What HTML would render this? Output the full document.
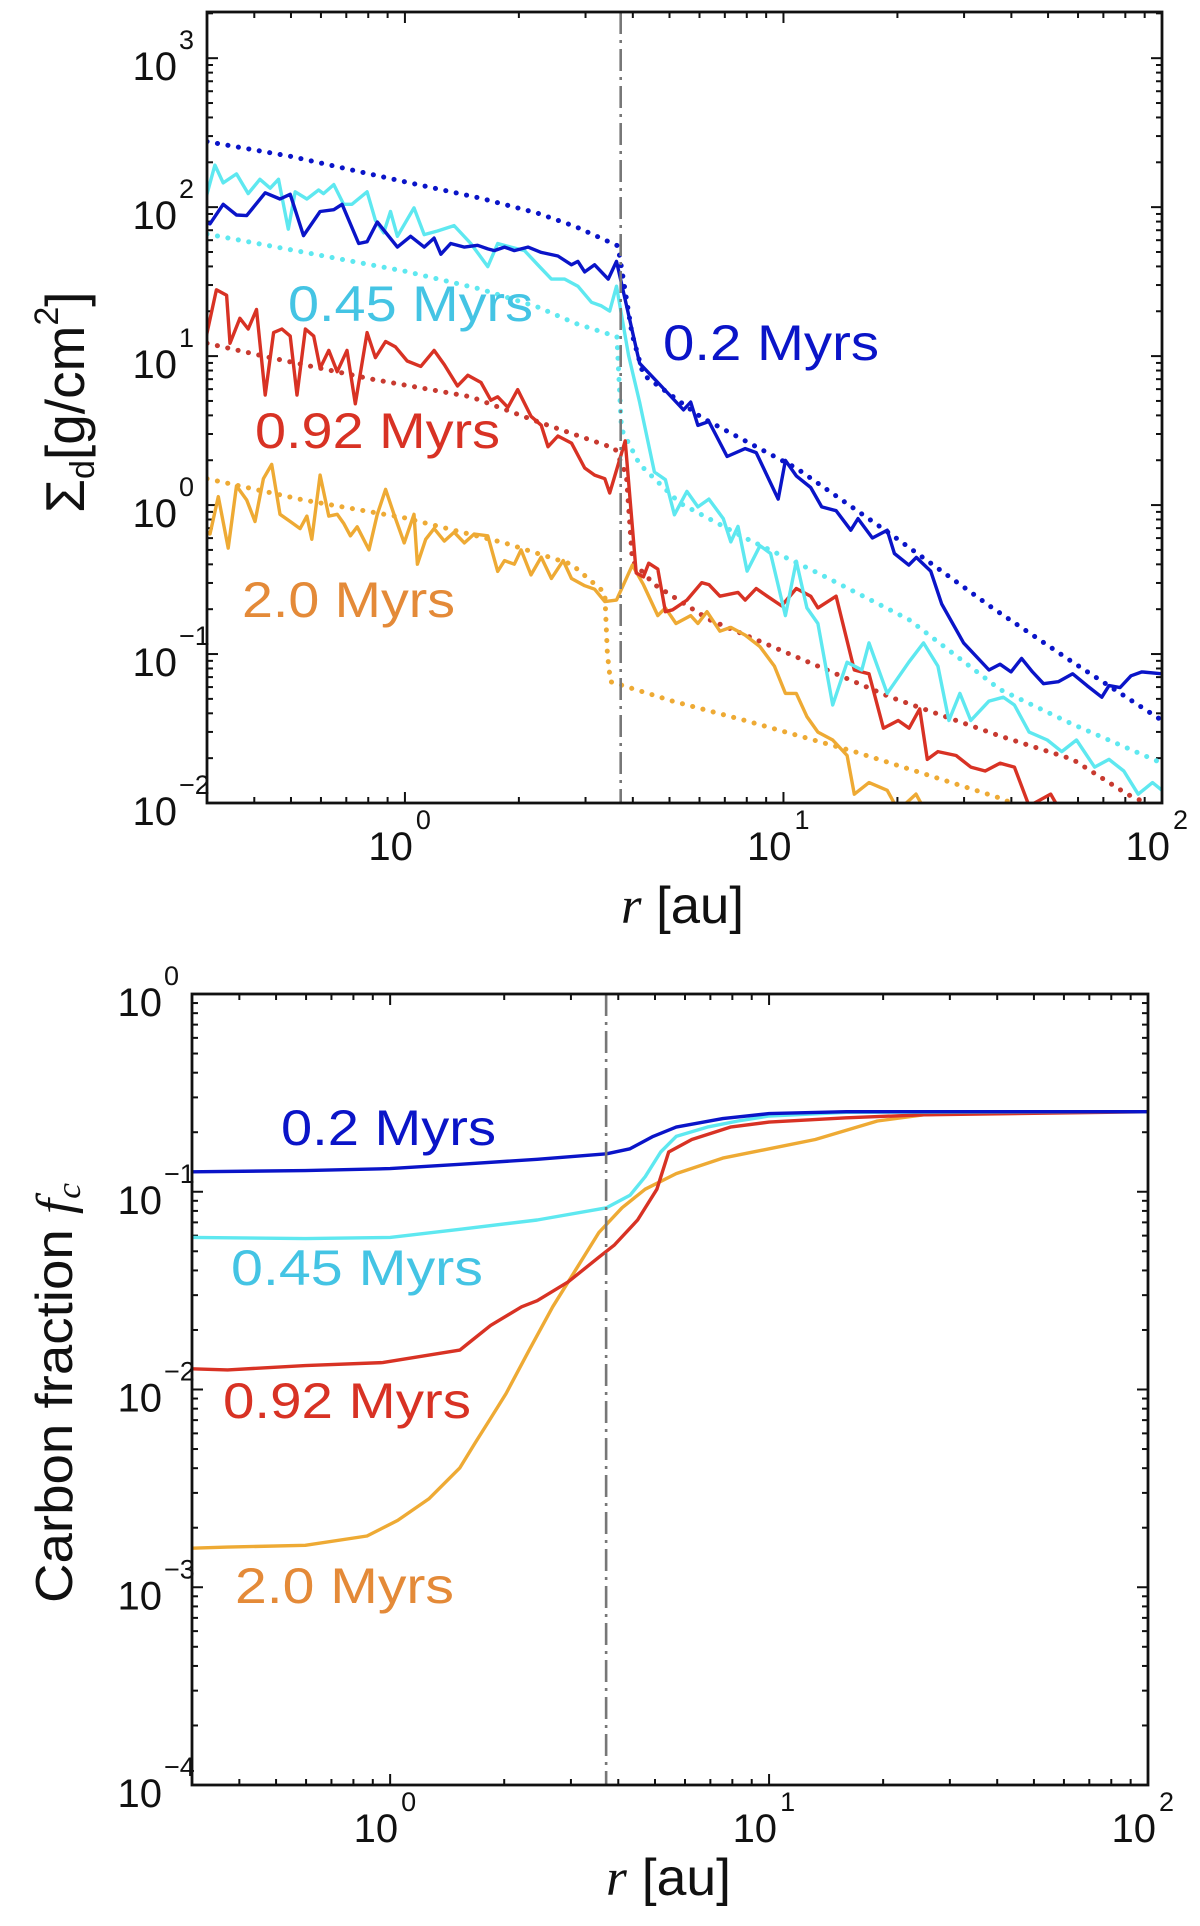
<!DOCTYPE html>
<html><head><meta charset="utf-8"><style>
html,body{margin:0;padding:0;background:#fff;}
svg{display:block;font-family:"Liberation Sans",sans-serif;}
</style></head><body>
<svg id="fig" width="1200" height="1926" viewBox="0 0 1200 1926" xmlns="http://www.w3.org/2000/svg"></svg>
<script>
// ---------- TOP PANEL DATA (log10 r [au], log10 Sigma_d [g/cm^2]) ----------
const topBlueSolidLogR = [-.533,-.515,-.48,-.445,-.418,-.369,-.33,-.303,-.268,-.224,-.188,-.166,-.122,-.1,-.073,-.02,.015,.051,.077,.095,.121,.157,.192,.219,.236,.263,.289,.325,.36,.404,.44,.457,.475,.501,.537,.559,.62,.678,.736,.755,.774,.803,.851,.899,.928,.986,1.005,1.034,1.072,1.101,1.139,1.178,1.197,1.235,1.274,1.293,1.331,1.351,1.389,1.418,1.476,1.543,1.572,1.601,1.629,1.658,1.687,1.726,1.764,1.802,1.841,1.86,1.889,1.918,1.947,2.0];
const topBlueSolidLogS = [1.9,1.888,2.019,1.947,1.943,2.096,2.055,2.086,1.809,1.971,1.983,2.019,1.756,1.768,1.9,1.732,1.804,1.732,1.792,1.684,1.756,1.732,1.744,1.72,1.708,1.732,1.708,1.732,1.696,1.672,1.613,1.636,1.565,1.613,1.517,1.636,.952,.796,.639,.691,.535,.561,.326,.379,.352,.04,.3,.196,.118,-.012,-.038,-.169,-.091,-.221,-.169,-.325,-.403,-.351,-.443,-.664,-.925,-1.107,-1.068,-1.12,-1.029,-1.12,-1.199,-1.186,-1.133,-1.212,-1.29,-1.212,-1.225,-1.146,-1.12,-1.133];
const topCyanSolidLogR = [-.533,-.502,-.48,-.445,-.414,-.383,-.356,-.334,-.308,-.29,-.259,-.228,-.215,-.188,-.162,-.14,-.1,-.078,-.056,-.038,-.02,.024,.051,.086,.13,.174,.219,.245,.28,.316,.351,.387,.422,.457,.493,.519,.541,.559,.591,.62,.659,.688,.712,.745,.774,.803,.841,.861,.88,.904,.938,.966,1.005,1.034,1.062,1.091,1.13,1.168,1.207,1.226,1.274,1.331,1.37,1.408,1.437,1.466,1.495,1.543,1.581,1.61,1.649,1.697,1.735,1.774,1.822,1.86,1.899,1.937,1.975,2.0];
const topCyanSolidLogS = [1.995,2.282,2.163,2.223,2.091,2.187,2.127,2.187,1.852,2.103,2.055,2.115,2.091,2.151,2.019,2.019,2.103,1.912,1.828,1.971,1.804,1.995,1.816,1.84,1.876,1.756,1.601,1.756,1.732,1.708,1.613,1.517,1.517,1.469,1.361,1.337,1.302,1.469,1.004,.691,.222,.17,-.065,.092,-.012,.04,-.091,-.247,-.143,-.443,-.273,-.325,-.742,-.377,-.69,-.795,-1.342,-1.055,-1.107,-.925,-1.264,-1.055,-.925,-1.081,-1.446,-1.264,-1.446,-1.316,-1.29,-1.342,-1.524,-1.577,-1.655,-1.577,-1.759,-1.707,-1.785,-1.941,-1.863,-1.915];
const topRedSolidLogR = [-.533,-.498,-.471,-.462,-.436,-.414,-.392,-.369,-.347,-.325,-.303,-.285,-.263,-.241,-.224,-.201,-.179,-.153,-.131,-.1,-.078,-.051,-.025,.006,.042,.077,.104,.139,.166,.201,.227,.245,.272,.298,.333,.36,.378,.404,.44,.475,.501,.528,.541,.555,.582,.611,.63,.644,.668,.688,.707,.745,.784,.803,.832,.88,.899,.928,.957,.995,1.034,1.072,1.091,1.139,1.187,1.226,1.264,1.303,1.332,1.36,1.38,1.408,1.456,1.495,1.533,1.572,1.61,1.649,1.706,1.735];
const topRedSolidLogS = [1.038,1.445,1.409,1.086,1.254,1.182,1.313,.739,1.158,1.182,1.134,.739,1.182,1.134,.919,1.038,.895,1.038,.68,1.158,.99,1.098,1.062,.967,.931,1.038,.943,.799,.871,.823,.703,.727,.656,.775,.596,.536,.392,.464,.416,.249,.201,.177,.081,.2,.431,-.456,-.482,-.39,-.43,-.716,-.703,-.638,-.521,-.534,-.612,-.586,-.638,-.56,-.612,-.677,-.56,-.612,-.69,-.612,-1.107,-1.133,-1.498,-1.446,-1.498,-1.368,-1.707,-1.655,-1.681,-1.759,-1.785,-1.733,-1.759,-2.02,-1.94,-2.07];
const topOrangeSolidLogR = [-.533,-.515,-.493,-.467,-.445,-.418,-.396,-.374,-.352,-.33,-.303,-.277,-.259,-.246,-.224,-.201,-.179,-.162,-.144,-.126,-.095,-.073,-.051,-.029,-.002,.024,.033,.055,.077,.104,.13,.157,.183,.219,.245,.263,.289,.307,.333,.36,.387,.418,.44,.475,.501,.528,.559,.601,.63,.668,.688,.716,.755,.774,.798,.832,.861,.899,.938,.976,1.005,1.034,1.062,1.091,1.13,1.168,1.187,1.226,1.274,1.303,1.35,1.38];
const topOrangeSolidLogS = [-.158,-.194,.057,-.289,.129,.034,-.11,.177,.273,-.062,-.11,-.158,-.074,-.23,.201,-.074,-.062,-.122,-.206,-.146,-.301,-.062,.105,-.062,-.254,-.062,-.397,-.23,-.158,-.242,-.182,-.254,-.194,-.206,-.445,-.373,-.397,-.301,-.469,-.349,-.493,-.373,-.493,-.541,-.565,-.648,-.638,-.403,-.534,-.742,-.69,-.795,-.742,-.795,-.716,-.847,-.821,-.873,-.951,-1.081,-1.264,-1.264,-1.42,-1.524,-1.577,-1.681,-1.941,-1.863,-1.915,-2.05,-1.94,-2.08];
const topBlueModelLogR = [-.523,-.3,0,.2,.35,.45,.563,.6,.63,.784,1.034,1.283,1.552,1.764,2.0];
const topBlueModelLogS = [2.44,2.34,2.17,2.06,1.96,1.87,1.74,1.15,.874,.587,.248,-.195,-.69,-1.055,-1.446];
const topCyanModelLogR = [-.523,0,.2,.35,.45,.56,.572,.62,.726,.899,1.091,1.331,1.572,1.764,2.0];
const topCyanModelLogS = [1.82,1.57,1.45,1.33,1.22,1.13,.509,.274,.014,-.221,-.456,-.768,-1.238,-1.472,-1.733];
const topRedModelLogR = [-.523,-.356,-.091,.174,.351,.555,.585,.601,.659,.803,.995,1.283,1.572,1.764,1.908,2.0];
const topRedModelLogS = [1.086,.99,.847,.727,.56,.38,.2,-.377,-.534,-.768,-.977,-1.29,-1.55,-1.707,-1.941,-2.05];
const topOrangeModelLogR = [-.523,-.268,0,.263,.44,.528,.535,.543,.707,.899,1.187,1.38,1.572,1.65];
const topOrangeModelLogS = [.177,.034,-.086,-.254,-.397,-.589,-1.0,-1.186,-1.316,-1.446,-1.655,-1.811,-1.967,-2.05];
const topYTicks = [3,2,1,0,-1,-2];
const topYTickLabels = ["3","2","1","0","\u22121","\u22122"];
const xTicks = [0,1,2];
const xTickLabels = ["0","1","2"];
// ---------- BOTTOM PANEL DATA (log10 r, log10 f_c) ----------
const botBlueLogR = [-.531,-.224,0,.184,.388,.571,.633,.694,.755,.878,1.0,1.204,2.006];
const botBlueLogF = [-.899,-.893,-.883,-.861,-.836,-.808,-.783,-.72,-.673,-.63,-.605,-.595,-.595];
const botCyanLogR = [-.531,-.224,0,.184,.388,.571,.633,.673,.714,.755,.837,.918,1.0,1.204,2.006];
const botCyanLogF = [-1.231,-1.237,-1.231,-1.19,-1.143,-1.081,-1.018,-.924,-.799,-.72,-.673,-.642,-.617,-.598,-.595];
const botRedLogR = [-.531,-.429,-.224,-.02,.184,.204,.265,.347,.388,.469,.551,.592,.653,.704,.735,.796,.898,1.0,1.204,1.408,2.006];
const botRedLogF = [-1.895,-1.901,-1.879,-1.864,-1.801,-1.77,-1.676,-1.582,-1.551,-1.457,-1.331,-1.269,-1.143,-.987,-.799,-.736,-.673,-.648,-.626,-.611,-.595];
const botOrangeLogR = [-.531,-.429,-.224,-.061,.02,.102,.184,.224,.265,.306,.367,.429,.49,.551,.612,.673,.755,.878,1.0,1.122,1.204,1.286,1.408,1.612,2.006];
const botOrangeLogF = [-2.803,-2.797,-2.788,-2.741,-2.662,-2.553,-2.396,-2.271,-2.146,-2.02,-1.801,-1.582,-1.394,-1.206,-1.081,-.987,-.908,-.83,-.783,-.736,-.689,-.642,-.611,-.595,-.595];
const botYTicks = [0,-1,-2,-3,-4];
const botYTickLabels = ["0","\u22121","\u22122","\u22123","\u22124"];
const snowLineLogR = 0.57;

const NS = "http://www.w3.org/2000/svg";
const svg = document.getElementById("fig");
function el(tag, attrs, parent){const e=document.createElementNS(NS,tag);for(const k in attrs)e.setAttribute(k,attrs[k]);(parent||svg).appendChild(e);return e;}

const COL = {blue:"#0a14c8", cyan:"#5ee8f0", red:"#d83224", orange:"#eeaa34"};

function panel(P){
  const g = el("g",{});
  
  
  const X = v => P.L + (v - P.xmin)/(P.xmax-P.xmin)*(P.R-P.L);
  const Y = v => P.T + (P.ymax - v)/(P.ymax-P.ymin)*(P.B-P.T);
  const cid = P.name+"-clip";
  const defs = el("defs",{},g);
  const cp = el("clipPath",{id:cid},defs);
  el("rect",{x:P.L,y:P.T,width:P.R-P.L,height:P.B-P.T},cp);
  const tg = el("g",{stroke:"#111","stroke-width":2},g);
  
  
  for(let d=Math.floor(P.xmin); d<Math.ceil(P.xmax)+1; d++){
    for(let m=1;m<10;m++){
      const v=d+Math.log10(m); if(v<P.xmin-1e-6||v>P.xmax+1e-6) continue;
      const x=X(v), len=m===1?11:6;
      el("line",{x1:x,y1:P.B,x2:x,y2:P.B-len},tg);
      el("line",{x1:x,y1:P.T,x2:x,y2:P.T+len},tg);
    }
  }
  for(let d=Math.floor(P.ymin); d<Math.ceil(P.ymax)+1; d++){
    for(let m=1;m<10;m++){
      const v=d+Math.log10(m); if(v<P.ymin-1e-6||v>P.ymax+1e-6) continue;
      const y=Y(v), len=m===1?11:6;
      el("line",{x1:P.L,y1:y,x2:P.L+len,y2:y},tg);
      el("line",{x1:P.R,y1:y,x2:P.R-len,y2:y},tg);
    }
  }
  P.yTicks.forEach((v,i)=>{
    const y=Y(v);
    const t=el("text",{x:P.L-30,y:y+22,"text-anchor":"end","font-size":40,fill:"#111"},g);
    t.textContent="10";
    
    
    const s=el("text",{x:P.L-28,y:y-9,"font-size":27,fill:"#111"},g);
    s.textContent=P.yTickLabels[i];
    
    
  });
  xTicks.forEach((v,i)=>{
    const x=X(v);
    const t=el("text",{x:x+8,y:P.B+57,"text-anchor":"end","font-size":40,fill:"#111"},g);
    t.textContent="10";
    
    
    const s=el("text",{x:x+11,y:P.B+26,"font-size":27,fill:"#111"},g);
    s.textContent=xTickLabels[i];
    
    
  });
  const sg = el("g",{"clip-path":"url(#"+cid+")",fill:"none"},g);
  P.series.forEach(s=>{
    const d = s.xs.map((v,i)=>(i?"L":"M")+X(v).toFixed(1)+" "+Y(s.ys[i]).toFixed(1)).join(" ");
    const a = {d:d,stroke:s.color,"stroke-linejoin":"round"};
    if(s.dotted){a["stroke-width"]=5;a["stroke-dasharray"]="0.1 10.5";a["stroke-linecap"]="round";}
    else {a["stroke-width"]=3.4;}
    const p = el("path",a,sg);
    
    
  });
  const sl = el("line",{x1:X(snowLineLogR),x2:X(snowLineLogR),y1:P.T,y2:P.B,stroke:"#777","stroke-width":2.6,"stroke-dasharray":"22 6 3 6"},g);
  
  
  const fr = el("rect",{x:P.L,y:P.T,width:P.R-P.L,height:P.B-P.T,fill:"none",stroke:"#111","stroke-width":2.8},g);
  
  
  return {X,Y};
}

panel({name:"surface-density-panel",L:207,R:1162,T:12,B:803,xmin:Math.log10(0.3),xmax:2,ymin:-2,ymax:3.31,
  yTicks:topYTicks,yTickLabels:topYTickLabels,
  series:[
    {name:"model-0.45-myr",xs:topCyanModelLogR,ys:topCyanModelLogS,color:COL.cyan,dotted:true},
    {name:"model-0.2-myr",xs:topBlueModelLogR,ys:topBlueModelLogS,color:COL.blue,dotted:true},
    {name:"model-0.92-myr",xs:topRedModelLogR,ys:topRedModelLogS,color:"#c83a30",dotted:true},
    {name:"model-2.0-myr",xs:topOrangeModelLogR,ys:topOrangeModelLogS,color:COL.orange,dotted:true},
    {name:"sim-2.0-myr",xs:topOrangeSolidLogR,ys:topOrangeSolidLogS,color:COL.orange},
    {name:"sim-0.92-myr",xs:topRedSolidLogR,ys:topRedSolidLogS,color:COL.red},
    {name:"sim-0.45-myr",xs:topCyanSolidLogR,ys:topCyanSolidLogS,color:COL.cyan},
    {name:"sim-0.2-myr",xs:topBlueSolidLogR,ys:topBlueSolidLogS,color:COL.blue}
  ]});

panel({name:"carbon-fraction-panel",L:192,R:1148,T:994,B:1785,xmin:Math.log10(0.3),xmax:2,ymin:-4,ymax:0,
  yTicks:botYTicks,yTickLabels:botYTickLabels,
  series:[
    {name:"fc-2.0-myr",xs:botOrangeLogR,ys:botOrangeLogF,color:COL.orange},
    {name:"fc-0.92-myr",xs:botRedLogR,ys:botRedLogF,color:COL.red},
    {name:"fc-0.45-myr",xs:botCyanLogR,ys:botCyanLogF,color:COL.cyan},
    {name:"fc-0.2-myr",xs:botBlueLogR,ys:botBlueLogF,color:COL.blue}
  ]});

function label(txt,x,y,color,name,w){
  const t=el("text",{x:x,y:y,"font-size":50,fill:color,textLength:w,lengthAdjust:"spacingAndGlyphs"});
  t.textContent=txt;
  
  
}
label("0.45 Myrs",288,321,"#44c4e4","label-0.45-myr-top",245);
label("0.92 Myrs",255,448,"#d83224","label-0.92-myr-top",245);
label("2.0 Myrs",242,617,"#e48a38","label-2.0-myr-top",213);
label("0.2 Myrs",663,360,"#0a14c8","label-0.2-myr-top",216);
label("0.2 Myrs",281,1145,"#0a14c8","label-0.2-myr-bottom",215);
label("0.45 Myrs",231,1285,"#44c4e4","label-0.45-myr-bottom",252);
label("0.92 Myrs",223,1418,"#d83224","label-0.92-myr-bottom",248);
label("2.0 Myrs",235,1603,"#e48a38","label-2.0-myr-bottom",219);
</script>
<svg style="position:absolute;left:0;top:0" width="1200" height="1926" xmlns="http://www.w3.org/2000/svg" font-family="Liberation Sans, sans-serif">
  <text x="621" y="923" font-size="52" fill="#111" textLength="123" lengthAdjust="spacingAndGlyphs"><tspan font-family="Liberation Serif, serif" font-style="italic">r</tspan> [au]</text>
  <text x="606" y="1895" font-size="52" fill="#111" textLength="125" lengthAdjust="spacingAndGlyphs"><tspan font-family="Liberation Serif, serif" font-style="italic">r</tspan> [au]</text>
  <text transform="translate(84,513) rotate(-90)" font-size="55" fill="#111">Σ<tspan font-size="34" dy="10">d</tspan><tspan dy="-10">[g/cm</tspan><tspan font-size="34" dy="-26">2</tspan><tspan dy="26">]</tspan></text>
  <text transform="translate(72,1603) rotate(-90)" font-size="52" fill="#111" textLength="420" lengthAdjust="spacingAndGlyphs">Carbon fraction <tspan font-family="Liberation Serif, serif" font-style="italic">f</tspan><tspan font-family="Liberation Serif, serif" font-style="italic" font-size="34" dy="8">c</tspan></text>
</svg>
</body></html>
